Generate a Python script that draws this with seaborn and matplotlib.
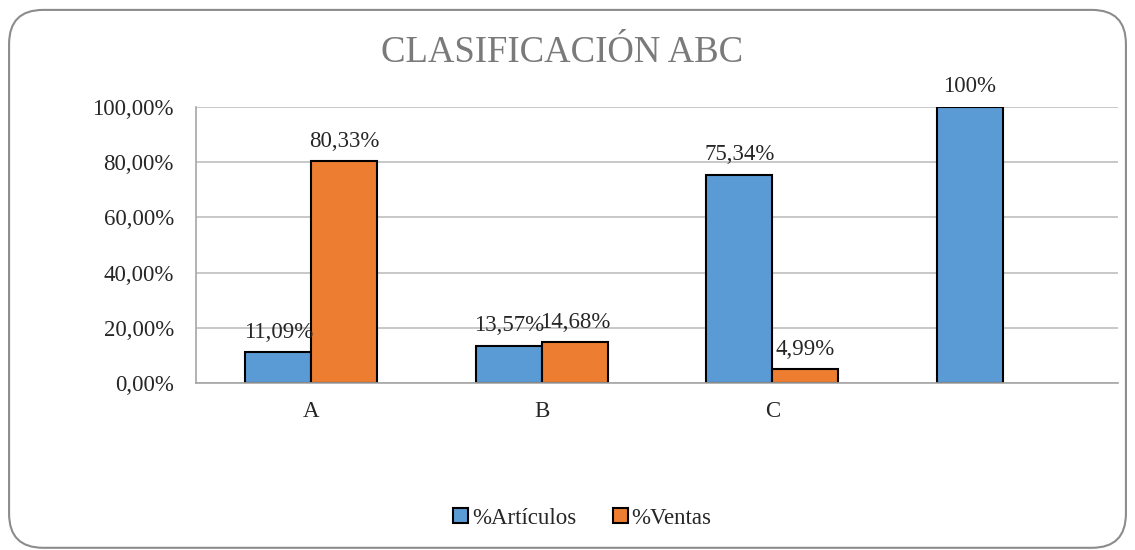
import pandas as pd
import matplotlib.pyplot as plt
import seaborn as sns
from matplotlib.patches import FancyBboxPatch
from matplotlib.ticker import FuncFormatter

sns.set_theme(style="white")
plt.rcParams["font.family"] = ["Liberation Serif", "DejaVu Serif"]

# ---------------------------------------------------------
# Data
# ---------------------------------------------------------
categories = ["A", "B", "C", ""]
articulos = [0.1109, 0.1357, 0.7534, 1.00]
ventas = [0.8033, 0.1468, 0.0499, None]
articulos_labels = ["11,09%", "13,57%", "75,34%", "100%"]
ventas_labels = ["80,33%", "14,68%", "4,99%"]
series = ["%Artículos", "%Ventas"]
colors = ["#5B9BD5", "#ED7D31"]

rows = []
for cat, a, v in zip(categories, articulos, ventas):
    rows.append({"cat": cat, "serie": series[0], "valor": a})
    if v is not None:
        rows.append({"cat": cat, "serie": series[1], "valor": v})
df = pd.DataFrame(rows)

# ---------------------------------------------------------
# Plot
# ---------------------------------------------------------
fig = plt.figure(figsize=(11.35, 5.5), dpi=100)
ax = fig.add_axes([0.1727, 0.3036, 0.8123, 0.5019])

sns.barplot(data=df, x="cat", y="valor", hue="serie", order=categories,
            hue_order=series, palette=colors, saturation=1, width=0.573, gap=0,
            edgecolor="black", linewidth=1.5, errorbar=None, legend=False, ax=ax)

fs = 16.5
ax.bar_label(ax.containers[0], labels=articulos_labels, padding=7, fontsize=fs)
ax.bar_label(ax.containers[1], labels=ventas_labels, padding=7, fontsize=fs)

ax.set_ylim(0, 1.0)
ax.set_yticks([0, 0.2, 0.4, 0.6, 0.8, 1.0])
ax.yaxis.set_major_formatter(FuncFormatter(lambda v, p: f"{v*100:.2f}%".replace(".", ",")))
ax.grid(axis="y", color="#bfbfbf", linewidth=1.2)
ax.set_axisbelow(True)
ax.set_xlabel("")
ax.set_ylabel("")
ax.tick_params(axis="y", length=0, pad=16, labelsize=fs)
ax.tick_params(axis="x", length=0, pad=13, labelsize=fs)
for s in ["top", "right"]:
    ax.spines[s].set_visible(False)
for s in ["left", "bottom"]:
    ax.spines[s].set_color("#a6a6a6")
    ax.spines[s].set_linewidth(1.2)

fig.text(0.4956, 0.905, "CLASIFICACIÓN ABC", ha="center", va="center",
         fontsize=26.5, color="#7a7a7a")

handles = [plt.Rectangle((0, 0), 1, 1, facecolor=c, edgecolor="black", linewidth=1.5) for c in colors]
fig.legend(handles, series, loc="center", bbox_to_anchor=(0.513, 0.058), ncol=2,
           frameon=False, fontsize=fs, handlelength=0.65, handleheight=0.65,
           handletextpad=0.15, columnspacing=1.6)

border = FancyBboxPatch((0.008, 0.004), 0.984, 0.978, boxstyle="round,pad=0,rounding_size=0.03",
                        transform=fig.transFigure, facecolor="none", edgecolor="#8c8c8c",
                        linewidth=1.5, mutation_aspect=1135 / 550)
fig.patches.append(border)

fig.savefig("out.png", dpi=100)
